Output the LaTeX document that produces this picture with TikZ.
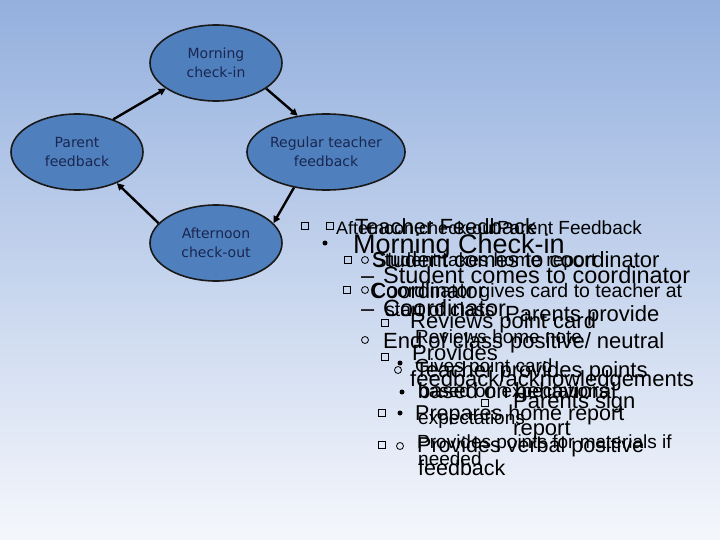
\documentclass[tikz,border=0pt]{standalone}
\usepackage{fontspec}
\usetikzlibrary{shapes.geometric,arrows.meta}
\newfontfamily\arialf{Liberation Sans}
\newfontfamily\tahf{DejaVu Sans}
\definecolor{bgtop}{RGB}{148,176,222}
\definecolor{bgbot}{RGB}{245,247,252}
\definecolor{ellfill}{RGB}{79,128,189}
\definecolor{elltext}{RGB}{25,38,80}
\begin{document}
\begin{tikzpicture}[x=1pt,y=-1pt,
  ell/.style={ellipse, draw=black!90, line width=1.6pt, fill=ellfill, minimum width=132pt, minimum height=76pt, inner sep=0pt, align=center, text=elltext, font=\tahf\fontsize{14}{19}\selectfont},
  arr/.style={line width=2.4pt, -{Triangle[length=7pt,width=7pt]}},
  tx/.style={anchor=base west, inner sep=0pt, font=\arialf\fontsize{#1}{#1}\selectfont},
  sqb/.style={rectangle, draw, line width=0.8pt, minimum size=7pt, inner sep=0pt},
  circb/.style={circle, draw, line width=0.8pt, minimum size=7pt, inner sep=0pt},
  bdot/.style={circle, fill, minimum size=5pt, inner sep=0pt}]
\shade[top color=bgtop, bottom color=bgbot] (0,0) rectangle (720,540);
\useasboundingbox (0,0) rectangle (720,540);

% cycle diagram
\node[ell] (morning) at (216,63) {Morning\\check-in};
\node[ell] (parent) at (77,152) {Parent\\feedback};
\node[ell, minimum width=128pt] (regular) at (326,152) {Regular teacher\\feedback};
\node[ell] (afternoon) at (216,243) {Afternoon\\check-out};
\draw[arr] (morning.-27) -- (regular.128);
\draw[arr] (regular.228) -- (afternoon.19);
\draw[arr] (afternoon.161) -- (parent.-38);
\draw[arr] (parent.42) -- (morning.207);

% overlapping text layers
\node[sqb] (s1) at (305,226) {};
\node[sqb] (s2) at (330,226) {};
\node[tx=18] (h1) at (336,235) {Afternoon check-out};
\node[tx=22] (h2) at (355,235) {Teacher Feedback};
\node[tx=19] (h3) at (497,235) {Parent Feedback};
\node[bdot] (b1) at (325,243) {};
\node[tx=27] (m1) at (353,253) {Morning Check-in};
\node[sqb] (s3) at (348,260) {};
\node[circb] (c1) at (365,260) {};
\node[tx=22] (a1) at (372,267) {Student comes to coordinator};
\node[tx=19] (p1) at (372,266) {Student takes home report};
\node[tx=23.5] (dash1) at (361,283) {–};
\node[tx=23.5] (m2) at (383,283) {Student comes to coordinator};
\node[sqb] (s4) at (347,290) {};
\node[circb] (c2) at (365,290) {};
\node[tx=19.5] (t1) at (372,297) {Coordinator gives card to teacher at};
\node[tx=22] (a2) at (370,298) {Coordinator};
\node[tx=23.5] (dash2) at (361,316) {–};
\node[tx=23.5] (m3) at (383,316) {Coordinator};
\node[tx=19.5] (t2) at (385,316) {start of class};
\node[tx=22] (p2) at (505,321) {Parents provide};
\node[sqb] (s5) at (385,323) {};
\node[tx=22] (a3) at (410,328) {Reviews point card};
\node[circb] (c3) at (365,340) {};
\node[tx=22] (t3) at (383,348) {End of class};
\node[tx=19] (m4) at (415,343) {Reviews home note};
\node[tx=22] (p3) at (510,348) {positive/ neutral};
\node[sqb] (s6) at (385,357) {};
\node[tx=22] (a4) at (412,360) {Provides};
\node[bdot] (b2) at (400,363) {};
\node[circb] (c4) at (398,370) {};
\node[tx=19] (m5) at (415,372) {Gives point card};
\node[tx=22] (t4) at (415,377) {Teacher provides points};
\node[tx=22] (a5) at (410,386) {feedback/acknowledgements};
\node[bdot] (b3) at (402,392) {};
\node[tx=22] (a6) at (418,398) {based on behavioral};
\node[tx=19] (t5) at (418,397) {based on expectations};
\node[sqb] (s7) at (485,403) {};
\node[tx=22] (p4) at (513,408) {Parents sign};
\node[sqb] (s8) at (382,413) {};
\node[bdot] (b4) at (400,413) {};
\node[tx=21.5] (a7) at (415,420) {Prepares home report};
\node[tx=19] (t6) at (418,424) {expectations};
\node[tx=22] (p5) at (513,435) {report};
\node[sqb] (s9) at (382,445) {};
\node[circb] (c5) at (400,446) {};
\node[tx=19] (a8) at (417,448) {Provides points for materials if};
\node[tx=21.5] (t7) at (417,452) {Provides verbal positive};
\node[tx=19] (a9) at (418,465) {needed};
\node[tx=21.5] (t8) at (418,475) {feedback};
\end{tikzpicture}
\end{document}
